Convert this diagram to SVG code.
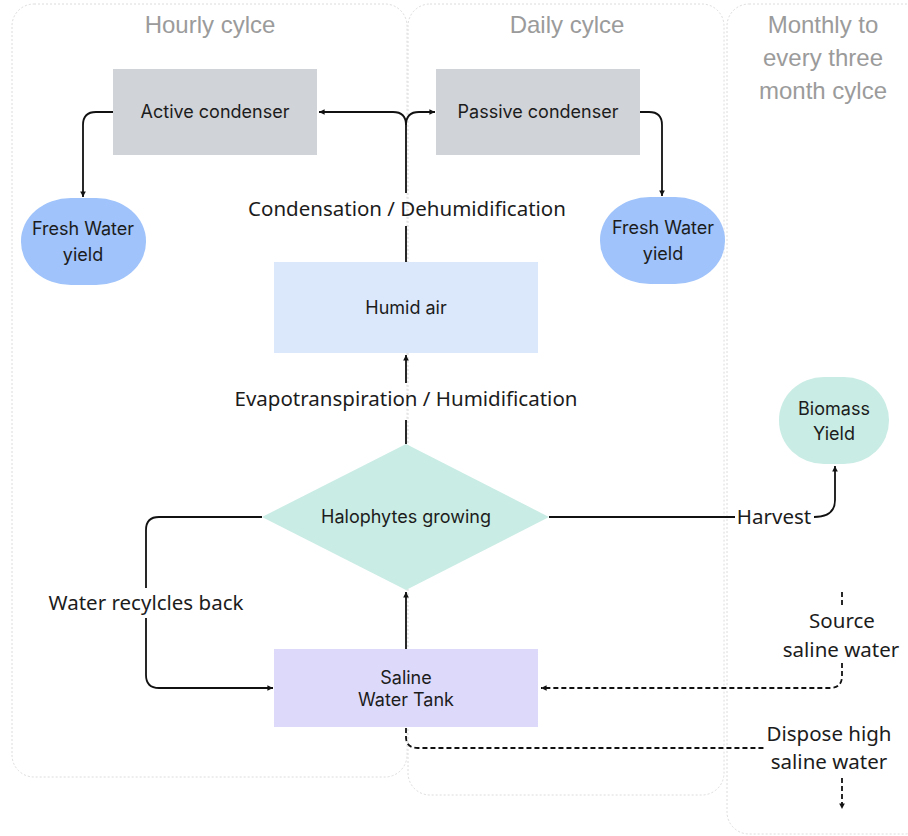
<svg xmlns="http://www.w3.org/2000/svg" width="908" height="836" viewBox="0 0 908 836">
<defs>
<marker id="ah" viewBox="0 0 10 10" refX="9" refY="5" markerWidth="7" markerHeight="7" orient="auto-start-reverse" markerUnits="userSpaceOnUse">
<path d="M1,1 L9,5 L1,9 Z" fill="#111"/>
</marker>
<style>
.panel{fill:#fff;stroke:#dcdcdc;stroke-width:1;stroke-dasharray:2 2}
.title{font-family:"Liberation Sans",Arial,sans-serif;font-size:24px;fill:#9b9b9b;text-anchor:middle}
.node{font-family:Inter,"Liberation Sans",sans-serif;font-size:18px;fill:#1c1c1c;text-anchor:middle}
.lbl{font-family:"Noto Sans","Liberation Sans",sans-serif;font-size:20.5px;fill:#1c1c1c;text-anchor:middle}
.c{fill:none;stroke:#111;stroke-width:1.8}
.d{fill:none;stroke:#111;stroke-width:1.8;stroke-dasharray:5 3}
</style>
</defs>
<rect width="908" height="836" fill="#fff"/>
<g id="panels">
<rect class="panel" x="727" y="4" width="200" height="830" rx="22"/>
<rect class="panel" x="408" y="4" width="316" height="791" rx="22"/>
<rect class="panel" x="12" y="4" width="395" height="773" rx="22"/>
<text class="title" x="210" y="33">Hourly cylce</text>
<text class="title" x="567" y="33">Daily cylce</text>
<text class="title" x="823" y="33">Monthly to</text>
<text class="title" x="823" y="66">every three</text>
<text class="title" x="823" y="99">month cylce</text>
</g>
<g id="connectors">
<path class="c" d="M406,444 V420"/>
<path class="c" d="M406,383 V355" marker-end="url(#ah)"/>
<path class="c" d="M406,262 V226"/>
<path class="c" d="M406,193 V125 Q406,112 393,112 H319" marker-end="url(#ah)"/>
<path class="c" d="M406,125 Q406,112 419,112 H435" marker-end="url(#ah)"/>
<path class="c" d="M113,112 H96 Q83,112 83,125 V197" marker-end="url(#ah)"/>
<path class="c" d="M640,112 H649 Q662,112 662,125 V196" marker-end="url(#ah)"/>
<path class="c" d="M262,517 H159 Q146,517 146,530 V588"/>
<path class="c" d="M146,618 V675 Q146,688 159,688 H273" marker-end="url(#ah)"/>
<path class="c" d="M406,649 V592" marker-end="url(#ah)"/>
<path class="c" d="M549,517 H735"/>
<path class="c" d="M814,517 Q835,517 835,500 V466" marker-end="url(#ah)"/>
<path class="d" d="M842,592 V605"/>
<path class="d" d="M842,663 V676 Q842,688 830,688 H541" marker-end="url(#ah)"/>
<path class="d" d="M406,728 V737 Q406,748 418,748 H764"/>
<path class="d" d="M842,778 V809" marker-end="url(#ah)"/>
</g>
<g id="active-condenser">
<rect x="113" y="69" width="204" height="86" fill="#d0d3d8"/>
<text class="node" x="215" y="118">Active condenser</text>
</g>
<g id="passive-condenser">
<rect x="436" y="69" width="204" height="86" fill="#d0d3d8"/>
<text class="node" x="538" y="118">Passive condenser</text>
</g>
<g id="fresh-water-left">
<rect x="21" y="198" width="125" height="87" rx="50" ry="43" fill="#9fc3fa"/>
<text class="node" x="83" y="235">Fresh Water</text>
<text class="node" x="83" y="261">yield</text>
</g>
<g id="fresh-water-right">
<rect x="600" y="197" width="125" height="87" rx="50" ry="43" fill="#9fc3fa"/>
<text class="node" x="663" y="234">Fresh Water</text>
<text class="node" x="663" y="260">yield</text>
</g>
<g id="humid-air">
<rect x="274" y="262" width="264" height="91" fill="#dbe8fb"/>
<text class="node" x="406" y="314">Humid air</text>
</g>
<g id="halophytes">
<polygon points="406,444 549,517 406,590 262,517" fill="#c9ece4"/>
<text class="node" x="406" y="523">Halophytes growing</text>
</g>
<g id="saline-tank">
<rect x="274" y="649" width="264" height="78" fill="#ddd9fb"/>
<text class="node" x="406" y="684">Saline</text>
<text class="node" x="406" y="706">Water Tank</text>
</g>
<g id="biomass">
<rect x="779" y="377" width="110" height="87" rx="45" ry="43" fill="#c9ece4"/>
<text class="node" x="834" y="415">Biomass</text>
<text class="node" x="834" y="440">Yield</text>
</g>
<g id="labels">
<text class="lbl" x="407" y="216">Condensation / Dehumidification</text>
<text class="lbl" x="406" y="406">Evapotranspiration / Humidification</text>
<text class="lbl" x="146" y="610">Water recylcles back</text>
<text class="lbl" x="774" y="524">Harvest</text>
<text class="lbl" x="842" y="628">Source</text>
<text class="lbl" x="841" y="657">saline water</text>
<text class="lbl" x="829" y="741">Dispose high</text>
<text class="lbl" x="829" y="769">saline water</text>
</g>
</svg>
